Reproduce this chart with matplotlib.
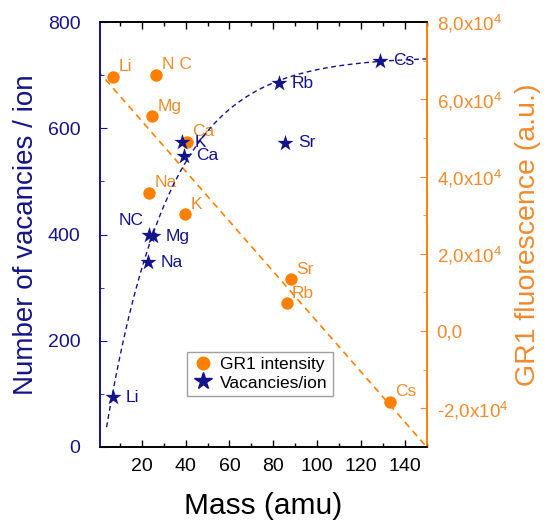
import numpy as np
import matplotlib
matplotlib.use("Agg")
import matplotlib.pyplot as plt
from matplotlib.ticker import MultipleLocator, FuncFormatter
from matplotlib.lines import Line2D

plt.rcParams["font.family"] = ["Liberation Sans", "DejaVu Sans"]
plt.rcParams["mathtext.fontset"] = "custom"
plt.rcParams["mathtext.rm"] = "Liberation Sans"
plt.rcParams["mathtext.default"] = "regular"

NAVY = "#14148a"
ORANGE = "#ff8000"
ORANGE_TXT = "#f08a2c"

# vacancies per ion (left axis)
vac_ions = ["Li", "Na", "NC", "Mg", "K", "Ca", "Rb", "Sr", "Cs"]
vac_mass = [7, 23, 23.3, 25.3, 38.4, 39.3, 82.6, 85.4, 128.8]
vac_vals = [94, 348, 400, 397, 574, 548, 685, 573, 727]

# GR1 intensity (right axis)
gr1_ions = ["Li", "N C", "Mg", "Ca", "Na", "K", "Sr", "Rb", "Cs"]
gr1_mass = [7, 26.5, 24.7, 40.6, 23.3, 39.7, 88, 86, 133]
gr1_vals = [6.59e4, 6.64e4, 5.56e4, 4.9e4, 3.57e4, 3.02e4, 1.34e4, 0.72e4, -1.83e4]

# fitted curves
vac_fit_mass = np.linspace(4, 150, 200)
vac_fit = 735 * (1 - np.exp(-(vac_fit_mass - 2.5) / 28.7))
gr1_fit_mass = np.array([0, 150])
gr1_fit = 6.74e4 - 650 * gr1_fit_mass

fig = plt.figure(figsize=(5.45, 5.25), dpi=100)
ax = fig.add_axes([0.1835, 0.1486, 0.6, 0.8094])
ax2 = ax.twinx()

ax2.plot(gr1_fit_mass, gr1_fit, color=ORANGE, lw=1.2, ls=(0, (4, 3)), zorder=1)
ax2.scatter(gr1_mass, gr1_vals, s=80, color=ORANGE, zorder=3, linewidths=0)
for name, m, v in zip(gr1_ions, gr1_mass, gr1_vals):
    ax2.annotate(name, (m, v), xytext=(4, 2), textcoords="offset points",
                 color=ORANGE_TXT, fontsize=12.5, ha="left", va="bottom")

ax.plot(vac_fit_mass, vac_fit, color=NAVY, lw=1.0, ls=(0, (3.5, 2.5)), zorder=1)
ax.scatter(vac_mass, vac_vals, s=150, marker="*", color=NAVY, zorder=4, linewidths=0)
for name, m, v in zip(vac_ions, vac_mass, vac_vals):
    if name == "NC":
        ax.annotate(name, (m, v), xytext=(-4, 10), textcoords="offset points",
                    color=NAVY, fontsize=12.5, ha="right", va="center")
    else:
        ax.annotate(name, (m, v), xytext=(9, 0), textcoords="offset points",
                    color=NAVY, fontsize=12.5, ha="left", va="center")

ax.set_zorder(ax2.get_zorder() + 1)
ax.patch.set_visible(False)

ax.set_xlim(1, 150)
ax.set_ylim(0, 800)
ax2.set_ylim(-3e4, 8e4)

ax.xaxis.set_major_locator(MultipleLocator(20))
ax.xaxis.set_minor_locator(MultipleLocator(10))
ax.yaxis.set_major_locator(MultipleLocator(200))
ax.yaxis.set_minor_locator(MultipleLocator(100))
ax2.yaxis.set_major_locator(MultipleLocator(2e4))
ax2.yaxis.set_minor_locator(MultipleLocator(1e4))


def sci_fmt(v, pos):
    m = v / 1e4
    if abs(m) < 1e-9:
        return "0,0"
    return f"{m:.0f},0x10$^{{4}}$"


ax2.yaxis.set_major_formatter(FuncFormatter(sci_fmt))

ax.tick_params(axis="x", which="both", direction="in", top=True, colors="black",
               labelsize=14, pad=8)
ax.tick_params(axis="x", which="major", length=5, width=1)
ax.tick_params(axis="x", which="minor", length=3, width=1)
ax.tick_params(axis="y", which="both", direction="in", colors=NAVY, labelsize=14, pad=14)
ax.tick_params(axis="y", which="major", length=5)
ax.tick_params(axis="y", which="minor", length=3)
ax2.tick_params(axis="y", which="both", direction="in", colors=ORANGE_TXT, labelsize=13.5,
                pad=7)
ax2.tick_params(axis="y", which="major", length=5)
ax2.tick_params(axis="y", which="minor", length=3)

for a in (ax, ax2):
    a.spines["left"].set_color(NAVY)
    a.spines["right"].set_color(ORANGE)
    a.spines["top"].set_color("black")
    a.spines["bottom"].set_color("black")
    for s in a.spines.values():
        s.set_linewidth(1.2)

ax.set_xlabel("Mass (amu)", fontsize=21.5, labelpad=12)
ax.set_ylabel("Number of vacancies / ion", fontsize=20, color=NAVY, labelpad=6)
ax2.set_ylabel("GR1 fluorescence (a.u.)", fontsize=20.5, color=ORANGE_TXT, labelpad=5)

handles = [
    Line2D([], [], ls="none", marker="o", ms=9, color=ORANGE, mec=ORANGE),
    Line2D([], [], ls="none", marker="*", ms=13, color=NAVY, mec=NAVY),
]
leg = ax.legend(handles, ["GR1 intensity", "Vacancies/ion"], loc="upper left",
                bbox_to_anchor=(0.24, 0.245), fontsize=12.5, frameon=True,
                fancybox=False, edgecolor="#888888", handletextpad=0.4,
                borderpad=0.3, labelspacing=0.2, handlelength=1.2)
leg.get_frame().set_linewidth(1.0)

fig.savefig("out.png", dpi=100)
